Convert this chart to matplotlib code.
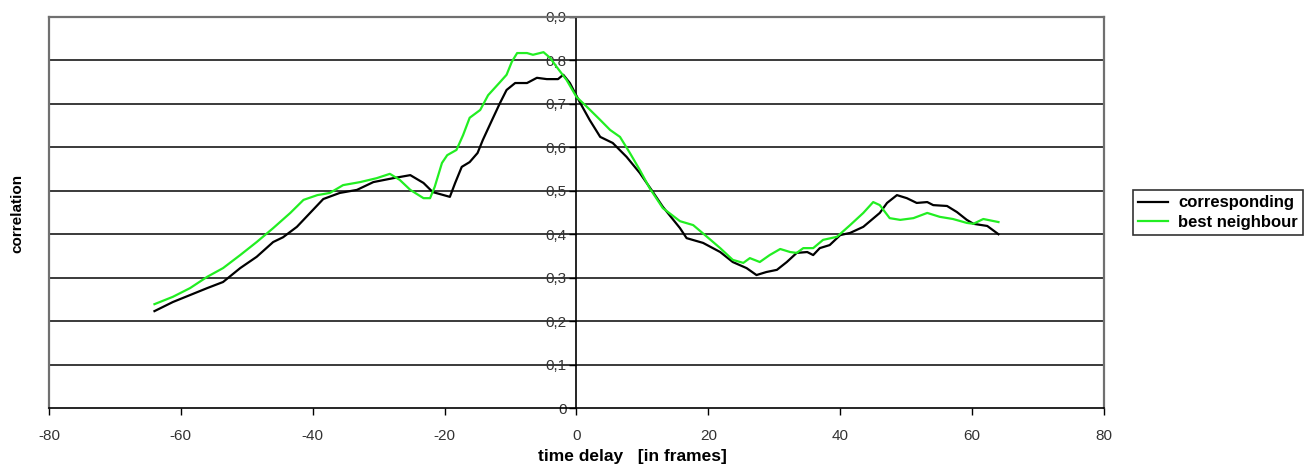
import matplotlib.pyplot as plt
from matplotlib.ticker import FuncFormatter

# Data
delay_corr = [-64, -61.2, -56, -53.6, -51, -48.5, -46, -44.5, -42.4, -40.4, -38.4, -35.9,
              -33.3, -30.8, -27.8, -25.2, -23.2, -21.8, -19.2, -18.4, -17.4, -16.2, -15,
              -14.2, -12.8, -11.6, -10.6, -9.3, -7.5, -6, -4.5, -2.8, -2, -1, 0.5, 2, 3.6,
              5.5, 7.6, 9.6, 11.6, 13.1, 15.7, 16.7, 19.2, 21.8, 23.7, 25.8, 27.3, 28.8,
              30.4, 31.9, 33.4, 35, 35.9, 36.9, 38.4, 40, 41.5, 43.5, 46, 47.1, 48.6, 50.1,
              51.6, 53.2, 54.1, 56.2, 57.7, 59.2, 60.2, 62.3, 64]
corresponding = [0.223, 0.244, 0.276, 0.29, 0.322, 0.348, 0.382, 0.393, 0.417, 0.449, 0.481,
                 0.495, 0.502, 0.52, 0.529, 0.536, 0.518, 0.497, 0.486, 0.518, 0.555, 0.566,
                 0.587, 0.617, 0.663, 0.702, 0.732, 0.748, 0.748, 0.76, 0.757, 0.757, 0.767,
                 0.748, 0.704, 0.663, 0.624, 0.61, 0.578, 0.541, 0.497, 0.463, 0.414, 0.391,
                 0.38, 0.359, 0.336, 0.322, 0.306, 0.313, 0.318, 0.336, 0.357, 0.359, 0.352,
                 0.368, 0.375, 0.398, 0.403, 0.417, 0.449, 0.472, 0.49, 0.483, 0.472, 0.474,
                 0.467, 0.465, 0.451, 0.433, 0.424, 0.419, 0.4]

delay_best = [-64, -61.2, -58.6, -56, -53.6, -51, -48.5, -46, -43.4, -41.4, -39.3, -37.4,
              -35.4, -32.8, -30.3, -28.3, -26.8, -25.2, -23.2, -22.2, -21.5, -20.4, -19.6,
              -18.2, -17.2, -16.2, -14.6, -13.4, -11.6, -10.6, -9.8, -9, -7.5, -6.6, -5,
              -4, -3, -1.5, 0, 1.6, 3.6, 5.1, 6.6, 8.1, 9.6, 11.1, 13.1, 15.7, 17.7, 19.8,
              21.8, 23.7, 25.3, 26.3, 27.8, 29.3, 30.9, 32.4, 33.4, 34.4, 35.9, 37.4, 39.5,
              41.5, 43.5, 45, 46, 47.5, 49.1, 51.1, 53.2, 55.1, 57.1, 59.2, 60.2, 61.7, 64]
best_neighbour = [0.239, 0.256, 0.276, 0.302, 0.322, 0.352, 0.382, 0.414, 0.449, 0.479,
                  0.49, 0.495, 0.513, 0.52, 0.529, 0.539, 0.525, 0.502, 0.483, 0.483,
                  0.509, 0.564, 0.582, 0.594, 0.628, 0.668, 0.686, 0.72, 0.75, 0.767,
                  0.797, 0.817, 0.817, 0.813, 0.819, 0.806, 0.785, 0.755, 0.716, 0.693,
                  0.663, 0.64, 0.624, 0.587, 0.548, 0.506, 0.46, 0.43, 0.421, 0.394,
                  0.368, 0.341, 0.334, 0.345, 0.336, 0.352, 0.366, 0.359, 0.357, 0.368,
                  0.368, 0.387, 0.394, 0.421, 0.449, 0.474, 0.467, 0.437, 0.433, 0.437,
                  0.449, 0.44, 0.435, 0.426, 0.424, 0.435, 0.428]

x_ticks = [-80, -60, -40, -20, 0, 20, 40, 60, 80]
y_ticks = [0, 0.1, 0.2, 0.3, 0.4, 0.5, 0.6, 0.7, 0.8, 0.9]

plt.rcParams["font.family"] = ["Liberation Sans", "DejaVu Sans"]
plt.rcParams["axes.unicode_minus"] = False

fig = plt.figure(figsize=(13.13, 4.68), dpi=100)
ax = fig.add_axes([0.0373, 0.1282, 0.8035, 0.8355])

ax.plot(delay_corr, corresponding, color="black", lw=1.6, label="corresponding", zorder=3)
ax.plot(delay_best, best_neighbour, color="#22ee22", lw=1.6, label="best neighbour", zorder=3)

ax.set_xlim(-80, 80)
ax.set_ylim(0, 0.9)
ax.set_xticks(x_ticks)
ax.set_yticks(y_ticks)
ax.yaxis.set_major_formatter(FuncFormatter(lambda v, p: f"{v:.1f}".replace(".", ",") if v else "0"))

# horizontal grid lines
for yv in y_ticks[1:-1]:
    ax.axhline(yv, color="#3a3a3a", lw=1.4, zorder=1)

# Excel style: y axis through x = 0, frame in grey
ax.spines["left"].set_position(("data", 0))
ax.spines["left"].set_color("black")
ax.spines["left"].set_linewidth(1.2)
ax.spines["bottom"].set_color("black")
ax.spines["bottom"].set_linewidth(1.2)
ax.spines["top"].set_color("#707070")
ax.spines["top"].set_linewidth(1.6)
ax.spines["right"].set_color("#707070")
ax.spines["right"].set_linewidth(1.6)
ax.plot([0, 0], [0, 1], transform=ax.transAxes, color="#707070", lw=1.6, clip_on=False)

ax.tick_params(axis="both", labelsize=11, labelcolor="#333333", color="black",
               direction="out", length=5, width=1)
ax.tick_params(axis="x", pad=10)
ax.tick_params(axis="y", pad=2)

fig.text(0.013, 0.545, "correlation", rotation=90, ha="center", va="center",
         fontsize=11, fontweight="bold")
fig.text(0.482, 0.025, "time delay   [in frames]", ha="center", va="center",
         fontsize=12.5, fontweight="bold")

leg = ax.legend(loc="center left", bbox_to_anchor=(1.0275, 0.5), frameon=True,
                fancybox=False, edgecolor="black", fontsize=12, handlelength=1.8,
                handletextpad=0.6, borderpad=0.3, labelspacing=0.25, borderaxespad=0)
leg.get_frame().set_linewidth(1.2)
for t in leg.get_texts():
    t.set_fontweight("bold")

fig.savefig("out.png", dpi=100)
